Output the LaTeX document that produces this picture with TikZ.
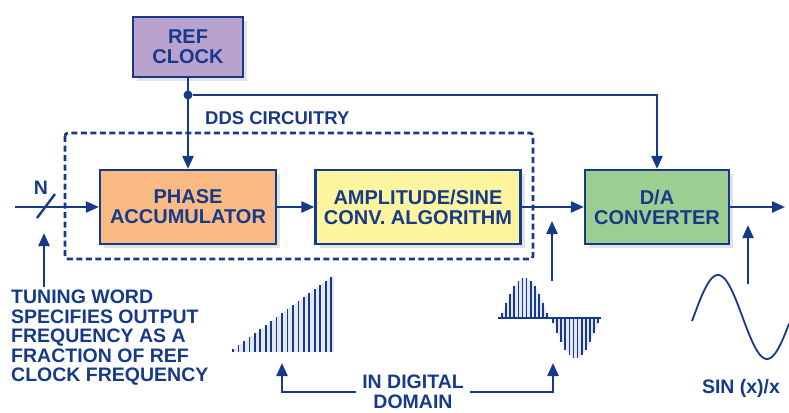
\documentclass[tikz,border=0pt]{standalone}
\usepackage{fontspec}
\setmainfont{Liberation Sans}
\usetikzlibrary{arrows.meta,shadows}
\definecolor{ddsblue}{RGB}{22,58,138}
\definecolor{clockfill}{RGB}{186,162,207}
\definecolor{phasefill}{RGB}{250,186,132}
\definecolor{sinefill}{RGB}{252,244,158}
\definecolor{dacfill}{RGB}{156,206,146}
\newcommand{\ddsfont}{\bfseries\fontsize{19.5}{19.5}\selectfont}
\tikzstyle{block}=[draw=ddsblue,line width=2.2pt,align=center,text=ddsblue,font=\bfseries\fontsize{20}{20}\selectfont,inner sep=2pt,minimum height=74pt,drop shadow={opacity=0.22,shadow xshift=4pt,shadow yshift=-4pt}]
\tikzstyle{conn}=[draw=ddsblue,line width=2.4pt,-{Triangle[length=13pt,width=11pt]}]
\tikzstyle{lbl}=[text=ddsblue,font=\ddsfont,inner sep=0pt]
\tikzstyle{bar}=[ddsblue,line width=1.7pt]

\begin{document}
\begin{tikzpicture}[x=1pt,y=-1pt]
    \useasboundingbox (0,0) rectangle (789,412);
    \node[block,fill=clockfill,minimum width=110pt,minimum height=60pt] (clock) at (188,47) {REF\\CLOCK};
    \node[block,fill=phasefill,minimum width=176pt] (pa) at (188,207) {PHASE\\ACCUMULATOR};
    \node[block,fill=sinefill,minimum width=205pt] (amp) at (418,207) {AMPLITUDE/SINE\\CONV. ALGORITHM};
    \node[block,fill=dacfill,minimum width=144pt] (da) at (657,207) {D/A\\CONVERTER};

    % dds circuitry frame
    \draw[ddsblue,line width=2.8pt,dash pattern=on 6pt off 3.5pt,rounded corners=3pt] (65,133) rectangle (533,259);
    \node[lbl,anchor=west,font=\bfseries\fontsize{18.5}{18.5}\selectfont] (dds) at (205,118) {DDS CIRCUITRY};

    \coordinate (inp) at (15,207);
    \coordinate (outp) at (785,207);
    \foreach \from/\to in {inp/pa,pa/amp,amp/da,da/outp,clock/pa}
    \draw[conn] (\from) -- (\to);

    \node[circle,fill=ddsblue,inner sep=0pt,minimum size=9pt] (dot) at (188,95) {};
    \draw[conn] (dot) -| (da);

    % bus width
    \draw[ddsblue,line width=2.4pt] (37,218) -- (55,194);
    \node[lbl] (n) at (41,188) {N};

    % pointers from below
    \coordinate (u1a) at (44,287);  \coordinate (u1b) at (44,233);
    \coordinate (u2a) at (552,281); \coordinate (u2b) at (552,221);
    \coordinate (u3a) at (748,284); \coordinate (u3b) at (748,225);
    \foreach \from/\to in {u1a/u1b,u2a/u2b,u3a/u3b}
    \draw[conn] (\from) -- (\to);

    \node[lbl,anchor=north west,align=left] (tuning) at (11,290)
        {TUNING WORD\\SPECIFIES OUTPUT\\FREQUENCY AS A\\FRACTION OF REF\\CLOCK FREQUENCY};

    % phase ramp
    \fill[ddsblue!12] (231,352) -- (334,352) -- (334,275) -- cycle;
    \foreach \i in {0,...,18}
    \draw[bar] ({233+5.45*\i},352) -- ++(0,{-(3+4*\i)});

    % sampled sine
    \fill[ddsblue!12] plot[domain=0:48,samples=30] ({501+\x},{318-40*sin(\x*3.75)})
        -- plot[domain=0:48,samples=30] ({552+\x},{318+40*sin(\x*3.75)}) -- cycle;
    \draw[ddsblue,line width=1.4pt] (498,318) -- (601,318);
    \foreach \i in {0,...,11} {
        \draw[bar] ({502+4.1*\i},318) -- ++(0,{-40*sin((\i+0.5)*15)});
        \draw[bar] ({553+4.1*\i},318) -- ++(0,{40*sin((\i+0.5)*15)});
    }

    % analog output
    \draw[ddsblue,line width=1.8pt] plot[domain=-1.5:95.5,samples=80] ({693.5+\x},{317-42*sin(\x*3.6735)});
    \node[lbl] (sinc) at (741,388) {SIN (x)/x};

    \node[lbl,align=center,inner sep=6pt] (digital) at (413,392) {IN DIGITAL\\DOMAIN};
    \coordinate (d1) at (282,363);
    \coordinate (d2) at (553,363);
    \draw[conn] (digital.west) -| (d1);
    \draw[conn] (digital.east) -| (d2);
\end{tikzpicture}
\end{document}
